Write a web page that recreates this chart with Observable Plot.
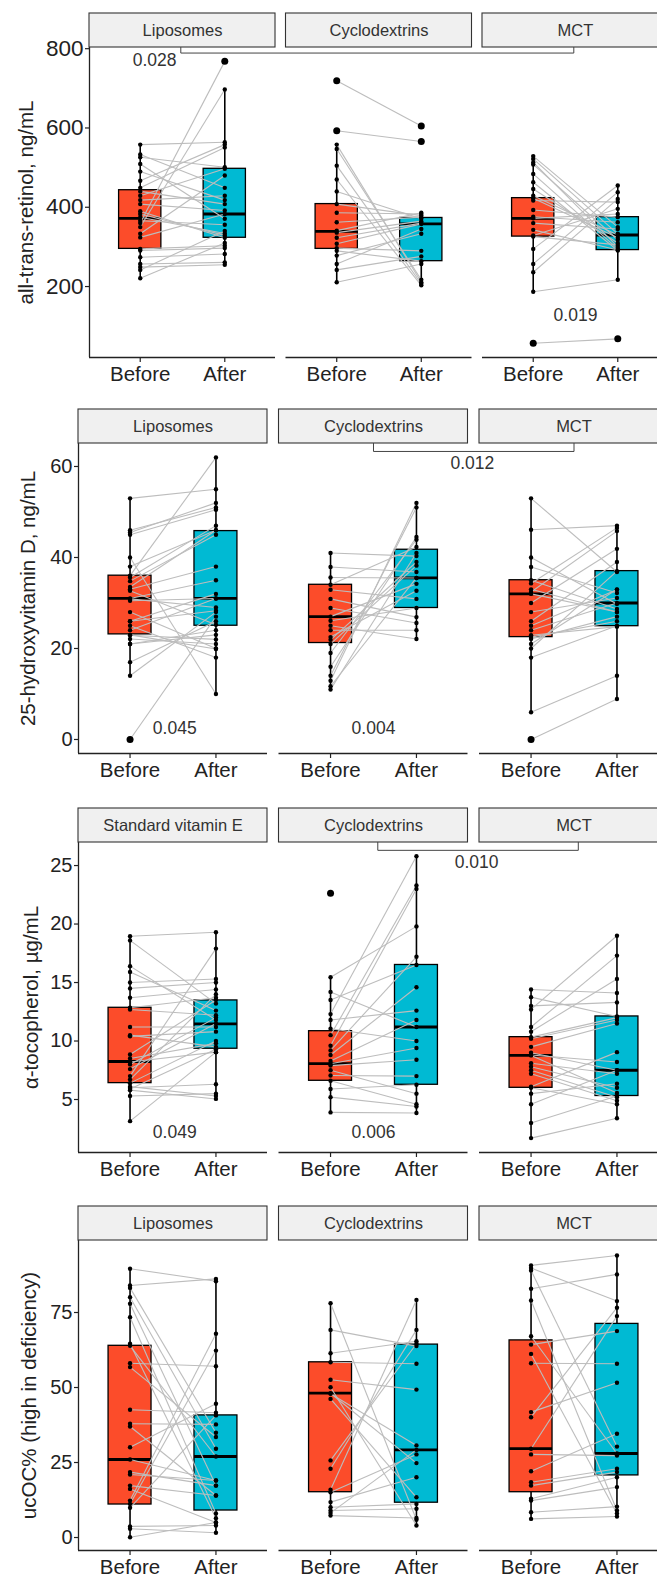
<!DOCTYPE html>
<html><head><meta charset="utf-8">
<script src="https://cdn.jsdelivr.net/npm/d3@7"></script>
<script src="https://cdn.jsdelivr.net/npm/@observablehq/plot@0.6"></script>
<style>
body{margin:0;background:#fff;}
#wrap{width:657px;height:1580px;overflow:hidden;}
#wrap svg{display:block;max-width:none !important;width:672px;height:395px;}
</style></head><body><div id="wrap"></div>
<script>
// ---------- categories ----------
const groupsA = ["Liposomes", "Cyclodextrins", "MCT"];
const groupsB = ["Standard vitamin E", "Cyclodextrins", "MCT"];
const timeLabels = ["Before", "After"];

// ---------- all-trans-retinol, ng/mL (paired: Before[i] <-> After[i]) ----------
const retinolBefore = [
  [558,533,526,509,490,467,449,440,429,418,408,390,383,375,366,360,350,333,324,295,291,274,257,249,242,221],
  [719,593,558,547,505,470,440,408,386,362,341,336,323,308,297,290,278,257,242,211],
  [529,522,513,508,484,463,446,429,423,417,393,376,372,360,343,329,326,295,257,236,187,57]
];
const retinolAfter = [
  [564,449,501,371,418,558,551,408,497,429,392,323,329,334,356,768,697,480,383,303,297,282,261,255,340,310],
  [605,566,211,217,207,203,371,379,383,375,386,365,360,358,290,264,333,345,276,257],
  [350,333,300,318,295,291,310,330,323,413,375,362,383,345,292,396,305,455,438,421,217,68]
];
// box stats: [lower whisker, Q1, median, Q3, upper whisker]
const retinolBoxBefore = [[221,295,372,443,558],[211,295,339,408,558],[187,326,372,423,529]];
const retinolBoxAfter  = [[255,323,383,497,697],[203,264,358,373,386],[217,292,330,375,455]];
const retinolTicks = [200, 400, 600, 800];

// ---------- 25-hydroxyvitamin D, ng/mL ----------
const vitDBefore = [
  [53,46,45.5,45,40,38,36,35.6,34.8,33.5,33,32.7,31,30.9,30.5,28,26,26,25,24,23,22.9,22.1,21,21,17,14,0],
  [41,37.9,35.6,34,32.9,30.9,28.9,27,26.1,25,24,22.5,21.9,21,19,16,14,12.9,11.7,11],
  [53,46.1,40,37.9,35,34.3,32.4,32,30,28,26,25,24,22.9,22.5,22.1,21,20,18,6,0,33]
];
const vitDAfter = [
  [55,51,52,50.5,10,46,62,47,45,46,38,25.2,35,29,31,20,32,28.3,18,31,19.9,22,21,23,24,26,28,27],
  [40.3,36.8,35.5,42.3,30.9,26.9,25.6,34.2,28.9,22.1,24,32.7,39,38.2,43.9,44.5,51,52,35.5,41],
  [36.8,47,29.8,32.2,28.7,46.5,45.8,28,41.9,31.1,39,32.9,30,24.8,26,27,33,37,25,14,8.9,28]
];
const vitDBoxBefore = [[14,23.1,31,36,53],[11,21.2,27,34,41],[6,22.5,32,35,53]];
const vitDBoxAfter  = [[10,25,31,45.8,62],[22.1,28.9,35.5,41.7,52],[8.9,24.9,30,37,47]];
const vitDTicks = [0, 20, 40, 60];

// ---------- alpha-tocopherol, ug/mL ----------
const tocoBefore = [
  [18.96,18.6,16.4,15.9,15.0,14.5,13.7,12.84,12.7,11.2,10.4,10.5,8.85,8.5,8.2,8.0,7.6,7.0,6.7,6.4,6.1,5.8,5.3,6.0,5.9,3.15],
  [22.64,15.45,14.2,13.5,12.3,11.8,11.05,10.5,9.6,9.2,8.8,8.3,8.06,7.9,7.5,7.05,6.6,5.9,5.2,3.9],
  [14.4,13.75,13.0,12.7,11.2,10.8,10.33,10.2,9.5,8.8,8.77,8.1,7.5,7.2,6.1,6.0,5.5,4.6,3.0,1.7,9.0,7.8]
];
const tocoAfter = [
  [19.3,13.2,11.8,12.6,15.3,15.0,14.4,13.7,12.2,11.2,10.8,9.5,13.5,9.8,9.05,12.0,11.5,17.9,14.0,10.0,5.3,5.05,5.5,6.3,9.3,9.05],
  [null,19.8,11.2,16.5,25.8,12.6,10.0,23.3,23.0,17.2,14.6,11.8,9.4,8.4,5.5,7.0,4.6,6.26,4.4,3.85],
  [14.1,12.1,13.3,19.0,17.3,15.3,12.0,11.8,11.5,8.2,5.55,7.2,5.2,4.9,9.05,4.6,6.35,7.5,5.3,3.4,7.5,6.0]
];
const tocoBoxBefore = [[3.15,6.4,8.25,12.84,18.96],[3.9,6.6,8.06,10.84,15.45],[1.7,6.0,8.77,10.33,14.4]];
const tocoBoxAfter  = [[5.05,9.34,11.47,13.47,19.3],[3.85,6.26,11.2,16.5,25.8],[3.4,5.3,7.5,12.1,19.0]];
const tocoTicks = [5, 10, 15, 20, 25];

// ---------- ucOC% ----------
const ucocBefore = [
  [89.6,84.0,83.2,80.1,77.9,73.4,64.6,63.9,58.1,56.8,42.6,37.9,37.0,30.1,26.0,21.8,21.0,17.3,16.2,12.3,11.2,9.9,3.7,2.9,0.1],
  [78.1,69.2,61.4,58.4,52.6,50.1,48.1,47.9,46.2,25.7,22.9,15.9,15.1,11.8,10.1,9.0,8.2,7.3],
  [90.7,89.8,89.0,82.9,79.0,67.1,64.3,61.2,58.1,41.8,40.1,29.6,27.7,22.1,18.4,17.3,12.9,12.3,8.4,6.2]
];
const ucocAfter = [
  [85.4,86.2,34.9,29.6,17.3,8.0,6.4,27.0,57.1,33.5,41.6,37.7,14.0,44.6,19.0,17.3,19.0,14.0,5.0,67.9,62.3,40.7,4.0,1.6,5.0],
  [5.9,63.8,65.4,57.9,49.3,4.0,24.8,30.7,13.4,64.6,69.2,79.2,27.7,20.1,11.2,9.6,29.2,6.5],
  [94.0,78.8,30.3,87.7,9.0,28.0,68.8,8.0,57.9,51.6,76.6,73.8,27.3,34.6,22.9,21.8,20.1,16.8,10.3,7.0]
];
const ucocBoxBefore = [[0.1,11.0,26.0,63.9,89.6],[7.3,15.1,48.1,58.4,78.1],[6.2,15.1,29.6,65.7,90.7]];
const ucocBoxAfter  = [[1.6,9.0,27.0,40.7,86.2],[4.0,11.6,29.2,64.3,79.2],[7.0,20.7,28.0,71.2,94.0]];
const ucocTicks = [0, 25, 50, 75];

// ---------- p-values: between-group brackets and within-panel labels ----------
const retinolBrackets = [{from: 0, to: 2, y: 789, label: "0.028", lx: 1.17, ly: 771, shift: -0.02}];
const vitDBrackets = [{from: 1, to: 2, y: 63.3, label: "0.012", lx: 2.65, ly: 60.6, shift: 0}];
const tocoBrackets = [{from: 1, to: 2, y: 26.3, label: "0.010", lx: 2.7, ly: 25.26, shift: 0.05}];
const retinolP = [["MCT", 1.5, 127, "0.019"]];
const vitDP = [["Liposomes", 1.52, 2.4, "0.045"], ["Cyclodextrins", 1.5, 2.4, "0.004"]];
const tocoP = [["Standard vitamin E", 1.52, 2.2, "0.049"], ["Cyclodextrins", 1.5, 2.2, "0.006"]];

// ---------- drawing ----------
const FONT = "'Liberation Sans', Arial, Helvetica, sans-serif";
const W = 672, MR = 4, H = 395, STRIP = 34;
const fillBefore = "#FC4C2A", fillAfter = "#00BAD3";

function makeRow(cfg) {
  const {groups, before, after, boxBefore, boxAfter, yDomain, yTicks, title,
         ml, mt, mb, pad, titleX, brackets, pvals, tickFont} = cfg;
  const [y0, y1] = yDomain;
  const ppu = (H - mt - mb) / (y1 - y0);
  const stripTop = y1 + STRIP / ppu;
  const step = (W - ml - MR) / (3 - pad);
  const ppx = step * (1 - pad) / 2.2;

  const pts = [], links = [], boxes = [];
  groups.forEach((g, gi) => {
    const bb = boxBefore[gi], ba = boxAfter[gi];
    before[gi].forEach((b, i) => {
      const a = after[gi][i];
      if (b != null) pts.push({g, x: 1, y: b, out: b < bb[0] || b > bb[4]});
      if (a != null) pts.push({g, x: 2, y: a, out: a < ba[0] || a > ba[4]});
      if (b != null && a != null) links.push({g, b, a});
    });
    [bb, ba].forEach((s, ti) => boxes.push({g, x: ti + 1, t: timeLabels[ti],
      lo: s[0], q1: s[1], med: s[2], q3: s[3], hi: s[4]}));
  });

  const brLines = [], brLabels = [];
  brackets.forEach((br, k) => {
    const g = groups[br.from];
    const xa = 1.5 + br.shift;
    const xb = xa + (br.to - br.from) * step / ppx;
    [[xa, y1], [xa, br.y], [xb, br.y], [xb, y1]].forEach(([x, y]) => brLines.push({g, k, x, y}));
    brLabels.push({g, x: br.lx, y: br.ly, label: br.label});
  });
  const pLabels = pvals.map(([g, x, y, label]) => ({g, x, y, label}));
  const strips = groups.map(g => ({g}));

  return Plot.plot({
    width: W, height: H,
    marginLeft: ml, marginRight: MR, marginTop: mt, marginBottom: mb,
    style: {fontFamily: FONT, color: "#222", background: "white", overflow: "visible", maxWidth: "none"},
    fx: {domain: groups, paddingInner: pad, paddingOuter: 0, round: false, axis: null, label: null},
    x: {domain: [0.4, 2.6], axis: null},
    y: {domain: yDomain, axis: null},
    color: {domain: timeLabels, range: [fillBefore, fillAfter]},
    marks: [
      // axis lines
      Plot.ruleY([y0], {stroke: "#222", strokeWidth: 1.3}),
      Plot.ruleX([{g: groups[0]}], {fx: "g", x: () => 0.4, stroke: "#222", strokeWidth: 1.3}),
      Plot.axisY({ticks: yTicks, tickSize: 4, tickPadding: 2, fontSize: tickFont, label: null, stroke: "#222", strokeWidth: 1.2}),
      Plot.axisX({ticks: [1, 2], tickFormat: d => timeLabels[d - 1], tickSize: 5, tickPadding: 4, fontSize: 20.5, label: null, stroke: "#222", strokeWidth: 1.2}),
      Plot.text([{g: groups[0]}], {fx: "g", text: () => title, frameAnchor: "left", textAnchor: "middle",
        lineAnchor: "middle", rotate: -90, dx: titleX, fontSize: 20.5, fill: "#222"}),
      // whiskers
      Plot.ruleX(boxes, {fx: "g", x: "x", y1: "q3", y2: "hi", stroke: "black", strokeWidth: 1.6}),
      Plot.ruleX(boxes, {fx: "g", x: "x", y1: "lo", y2: "q1", stroke: "black", strokeWidth: 1.6}),
      // boxes
      Plot.rect(boxes, {fx: "g", x1: d => d.x - 0.25, x2: d => d.x + 0.25, y1: "q1", y2: "q3",
        fill: "t", stroke: "black", strokeWidth: 1.3}),
      Plot.ruleY(boxes, {fx: "g", y: "med", x1: d => d.x - 0.25, x2: d => d.x + 0.25, stroke: "black", strokeWidth: 2.8}),
      // paired lines
      Plot.link(links, {fx: "g", x1: () => 1, x2: () => 2, y1: "b", y2: "a", stroke: "#BDBDBD", strokeWidth: 1.1}),
      // points
      Plot.dot(pts.filter(d => !d.out), {fx: "g", x: "x", y: "y", r: 2.2, fill: "black", stroke: "none"}),
      Plot.dot(pts.filter(d => d.out), {fx: "g", x: "x", y: "y", r: 3.5, fill: "black", stroke: "none"}),
      // p-values
      Plot.line(brLines, {fx: "g", x: "x", y: "y", z: "k", stroke: "#444", strokeWidth: 1}),
      Plot.text(brLabels, {fx: "g", x: "x", y: "y", text: "label", fontSize: 17.5, fill: "#333"}),
      Plot.text(pLabels, {fx: "g", x: "x", y: "y", text: "label", fontSize: 17.5, fill: "#333"}),
      // facet strips
      Plot.rect(strips, {fx: "g", x1: () => 0.4, x2: () => 2.6, y1: () => y1, y2: () => stripTop,
        fill: "#F0F0F0", stroke: "#333", strokeWidth: 1.1}),
      Plot.text(strips, {fx: "g", x: () => 1.5, y: () => (y1 + stripTop) / 2, text: "g", fontSize: 16.5, fill: "#333"})
    ]
  });
}

const wrap = document.getElementById("wrap");
wrap.append(makeRow({groups: groupsA, before: retinolBefore, after: retinolAfter,
  boxBefore: retinolBoxBefore, boxAfter: retinolBoxAfter, yDomain: [21, 803], yTicks: retinolTicks,
  title: "all-trans-retinol, ng/mL", ml: 89, mt: 47, mb: 38, pad: 0.0534, titleX: -63, tickFont: 22.5,
  brackets: retinolBrackets, pvals: retinolP}));
wrap.append(makeRow({groups: groupsA, before: vitDBefore, after: vitDAfter,
  boxBefore: vitDBoxBefore, boxAfter: vitDBoxAfter, yDomain: [-3.08, 65.05], yTicks: vitDTicks,
  title: "25-hydroxyvitamin D, ng/mL", ml: 78, mt: 48, mb: 37, pad: 0.0574, titleX: -50.5, tickFont: 20,
  brackets: vitDBrackets, pvals: vitDP}));
wrap.append(makeRow({groups: groupsB, before: tocoBefore, after: tocoAfter,
  boxBefore: tocoBoxBefore, boxAfter: tocoBoxAfter, yDomain: [0.47, 26.97], yTicks: tocoTicks,
  title: "α-tocopherol, µg/mL", ml: 78, mt: 52, mb: 33, pad: 0.0574, titleX: -47, tickFont: 20,
  brackets: tocoBrackets, pvals: tocoP}));
wrap.append(makeRow({groups: groupsA, before: ucocBefore, after: ucocAfter,
  boxBefore: ucocBoxBefore, boxAfter: ucocBoxAfter, yDomain: [-4.33, 99], yTicks: ucocTicks,
  title: "ucOC% (high in deficiency)", ml: 78, mt: 55, mb: 30, pad: 0.0574, titleX: -49, tickFont: 20,
  brackets: [], pvals: []}));
</script></body></html>
